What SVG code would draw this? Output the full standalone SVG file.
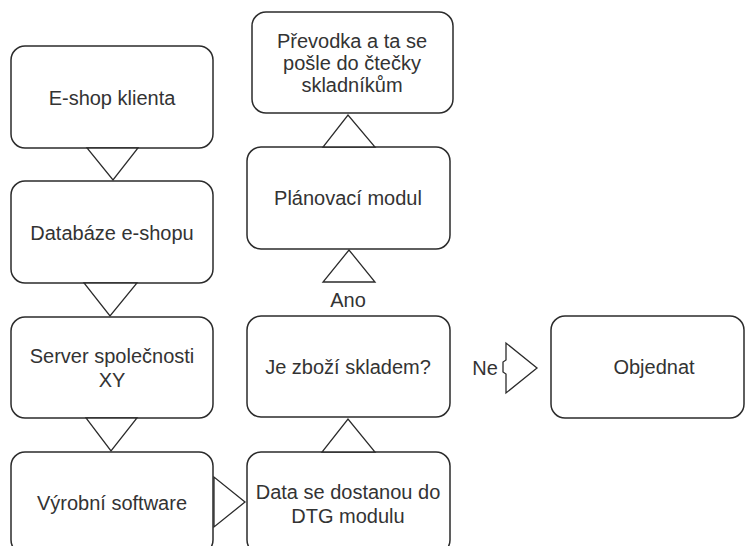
<svg xmlns="http://www.w3.org/2000/svg" width="745" height="546" viewBox="0 0 745 546">
  <style>
    .box { fill: #ffffff; stroke: #2b2b2b; stroke-width: 1.5; }
    .arrow { fill: #ffffff; stroke: #2b2b2b; stroke-width: 1.3; stroke-linejoin: miter; }
    text { font-family: "Liberation Sans", Arial, sans-serif; font-size: 20px; fill: #333333; text-anchor: middle; }
  </style>
  <rect width="745" height="546" fill="#ffffff"/>

  <!-- process steps -->
  <g id="eshop">
    <rect class="box" x="11" y="46" width="202" height="102" rx="14"/>
    <text x="112" y="105">E-shop klienta</text>
  </g>
  <g id="databaze">
    <rect class="box" x="11" y="181" width="202" height="102" rx="14"/>
    <text x="112" y="240">Databáze e-shopu</text>
  </g>
  <g id="server">
    <rect class="box" x="11" y="317" width="202" height="101" rx="14"/>
    <text x="112" y="363">Server společnosti</text>
    <text x="112" y="387">XY</text>
  </g>
  <g id="vyrobni">
    <rect class="box" x="11" y="452" width="202" height="102" rx="14"/>
    <text x="112" y="510">Výrobní software</text>
  </g>
  <g id="dtg">
    <rect class="box" x="247" y="452" width="203" height="102" rx="14"/>
    <text x="348" y="499">Data se dostanou do</text>
    <text x="348" y="523">DTG modulu</text>
  </g>
  <g id="sklad">
    <rect class="box" x="247" y="316" width="203" height="101" rx="14"/>
    <text x="348" y="374">Je zboží skladem?</text>
  </g>
  <g id="planovaci">
    <rect class="box" x="247" y="147" width="203" height="102" rx="14"/>
    <text x="348" y="205">Plánovací modul</text>
  </g>
  <g id="prevodka">
    <rect class="box" x="252" y="12" width="201" height="101" rx="14"/>
    <text x="352" y="48">Převodka a ta se</text>
    <text x="352" y="70">pošle do čtečky</text>
    <text x="352" y="92">skladníkům</text>
  </g>
  <g id="objednat">
    <rect class="box" x="551" y="316" width="193" height="102" rx="14"/>
    <text x="654" y="374">Objednat</text>
  </g>

  <!-- block arrows between steps -->
  <g id="connectors">
    <polygon class="arrow" points="87,148 138,148 113,180"/>
    <polygon class="arrow" points="84,283 137,283 110,316"/>
    <polygon class="arrow" points="86,418 137,418 111,451"/>
    <polygon class="arrow" points="214,477 214,527 245,502"/>
    <polygon class="arrow" points="322,452 375,452 348,419"/>
    <polygon class="arrow" points="323,282 375,282 349,250"/>
    <polygon class="arrow" points="323,147 375,147 348,115"/>
    <path class="arrow" d="M506,343 V360 L503,362 V372 L506,374 V393 L537,368 Z"/>
    <text x="348" y="307">Ano</text>
    <text x="485" y="375">Ne</text>
  </g>
</svg>
